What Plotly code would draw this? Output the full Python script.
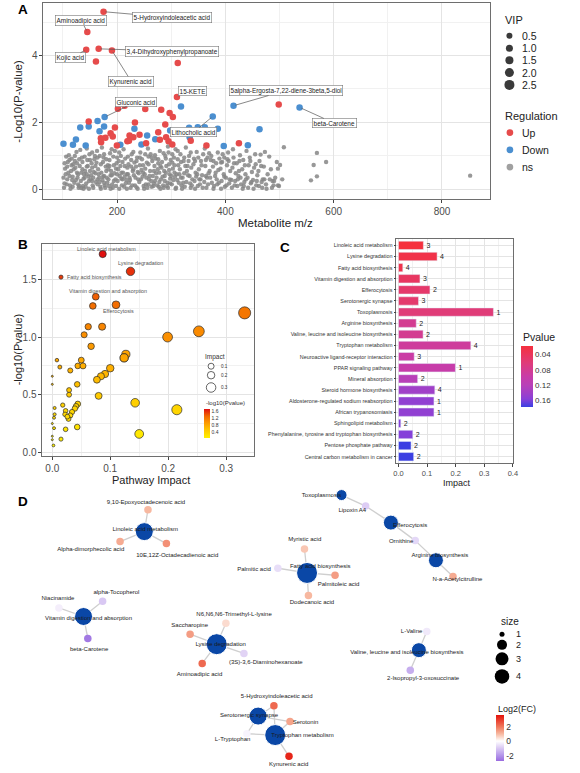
import math
import plotly.graph_objects as go

W, H = 580, 773
FONT = "Liberation Sans, Arial, Helvetica, sans-serif"

# ======================= DATA =======================
# ---- Panel A : metabolite m/z vs -log10(P)
up_points = [(175, 5.31), (145, 4.70), (143, 4.17), (166, 4.20), (190.5, 4.15), (161, 3.82), (312, 3.78),
             (310.5, 2.76), (498.5, 2.54), (201.5, 2.41), (214, 2.50), (252, 2.40), (281.5, 2.38), (297, 2.28),
             (303, 2.16), (147.6, 2.03), (196, 1.85), (233, 2.00), (289, 1.94), (188, 1.68), (192, 1.58),
             (170, 1.53), (178.5, 1.54), (170.5, 1.41), (223, 1.61), (230, 1.56), (241.5, 1.63), (276, 1.71),
             (279, 1.48), (290.5, 1.56), (295, 1.44), (302, 1.34), (219, 1.44), (222, 1.45), (253.6, 1.38),
             (199.6, 1.31), (336, 1.45), (365, 1.31), (425, 1.38)]
down_points = [(318, 2.48), (415, 2.50), (537, 2.45), (177, 2.16), (164, 2.04), (147.6, 1.88), (132, 1.85),
               (167.6, 1.74), (176, 1.88), (232, 1.81), (376.7, 2.18), (333, 1.84), (349, 1.86), (362, 1.86),
               (386, 1.81), (463, 1.80), (298, 1.76), (255.5, 1.61), (270.5, 1.50), (245, 1.34), (206, 1.33),
               (101, 1.36), (118.5, 1.33), (124, 1.49), (142, 1.31), (334, 1.56), (397, 1.30), (441.5, 1.32)]
ns_points = [
    (102, 0.05), (104, 0.62), (106, 0.98), (108, 0.3), (103, 0.18), (109, 0.82), (105, 0.45),
    (111, 1.02), (113, 0.12), (115, 0.55), (117, 0.28), (119, 0.75), (112, 0.4), (118, 0.08), (116, 0.92),
    (121, 0.2), (123, 0.65), (125, 1.12), (127, 0.35), (129, 0.05), (122, 0.85), (126, 0.5), (128, 0.15),
    (131, 0.7), (133, 0.25), (135, 0.95), (137, 0.1), (139, 0.45), (132, 1.18), (136, 0.6), (138, 0.32), (134, 0.04),
    (141, 0.55), (143, 0.18), (145, 0.88), (147, 0.38), (149, 1.05), (142, 0.08), (146, 0.7), (148, 0.25), (144, 1.22),
    (151, 0.3), (153, 0.78), (155, 0.12), (157, 0.52), (159, 1.0), (152, 0.42), (156, 0.05), (158, 0.9), (154, 0.65),
    (161, 0.22), (163, 1.15), (165, 0.6), (167, 0.35), (169, 0.08), (162, 0.8), (166, 0.45), (168, 1.0), (164, 0.15),
    (171, 0.5), (173, 0.28), (175, 0.95), (177, 0.12), (179, 0.68), (172, 1.25), (176, 0.4), (178, 0.05), (174, 0.82),
    (181, 0.35), (183, 0.72), (185, 0.1), (187, 1.08), (189, 0.55), (182, 0.2), (186, 0.88), (188, 0.42), (184, 0.6),
    (191, 0.15), (193, 0.98), (195, 0.48), (197, 0.3), (199, 0.78), (192, 0.05), (196, 1.15), (198, 0.62),
    (201, 0.25), (203, 0.85), (205, 0.4), (207, 1.0), (209, 0.12), (202, 0.6), (206, 0.7), (208, 0.32),
    (211, 0.5), (213, 0.08), (215, 0.92), (217, 0.28), (219, 0.65), (212, 1.2), (216, 0.18), (218, 0.45),
    (221, 0.75), (223, 0.35), (225, 0.05), (227, 1.05), (229, 0.55), (222, 0.2), (226, 0.88),
    (231, 0.42), (233, 0.12), (235, 0.68), (237, 0.95), (239, 0.3), (232, 0.8), (236, 0.06), (238, 0.52),
    (241, 0.22), (243, 1.1), (245, 0.58), (247, 0.38), (249, 0.1), (242, 0.72), (246, 0.9),
    (251, 0.45), (253, 0.15), (255, 0.8), (257, 1.22), (259, 0.3), (252, 0.62), (256, 0.05), (258, 0.98),
    (261, 0.55), (263, 0.25), (265, 0.85), (267, 0.1), (269, 0.7), (262, 1.05), (266, 0.4), (268, 0.18),
    (271, 0.92), (273, 0.35), (275, 0.6), (277, 0.08), (279, 1.15), (272, 0.48), (276, 0.78), (278, 0.22),
    (281, 0.3), (283, 0.82), (285, 0.12), (287, 0.55), (289, 1.0), (282, 0.65), (286, 0.05), (288, 0.4),
    (291, 0.7), (293, 0.2), (295, 1.1), (297, 0.45), (299, 0.88), (292, 0.1), (296, 0.58), (298, 0.32), (294, 1.28),
    (301, 0.15), (303, 0.62), (305, 0.95), (307, 0.38), (309, 0.05), (302, 0.8), (306, 0.5), (308, 1.2),
    (311, 0.28), (313, 0.72), (315, 0.45), (317, 1.05), (319, 0.12), (312, 0.9), (316, 0.6),
    (321, 0.35), (323, 0.85), (325, 0.08), (327, 1.25), (329, 0.55), (322, 0.2), (326, 0.7),
    (331, 0.42), (333, 1.0), (335, 0.18), (337, 0.65), (339, 0.3), (332, 0.85), (336, 0.05),
    (341, 0.75), (343, 0.25), (345, 0.5), (347, 1.12), (349, 0.1), (342, 0.92), (346, 0.38),
    (351, 0.6), (353, 0.15), (355, 0.85), (357, 0.42), (359, 1.05), (352, 0.3),
    (361, 0.22), (363, 0.7), (365, 0.05), (367, 0.95), (369, 0.48), (362, 1.22), (366, 0.35),
    (371, 0.55), (373, 0.88), (375, 0.2), (377, 0.68), (379, 0.1), (374, 1.0),
    (381, 0.4), (383, 0.78), (385, 0.15), (387, 0.58), (389, 0.92), (384, 0.3),
    (391, 0.62), (393, 0.25), (395, 1.05), (397, 0.45), (399, 0.08), (394, 0.82),
    (401, 0.35), (403, 0.72), (405, 1.1), (407, 0.18), (409, 0.55), (404, 0.9),
    (411, 0.28), (413, 0.65), (415, 0.95), (417, 0.12), (419, 0.48), (414, 1.2),
    (421, 0.78), (423, 0.3), (425, 0.55), (427, 1.02), (429, 0.15), (424, 0.4),
    (431, 0.6), (433, 0.88), (435, 0.22), (437, 0.45), (439, 1.15), (434, 0.1),
    (441, 0.35), (443, 0.72), (445, 0.95), (447, 0.18), (449, 0.52),
    (451, 0.28), (453, 0.65), (455, 1.05), (457, 0.12), (459, 0.42),
    (461, 0.55), (463, 0.85), (465, 1.04), (467, 0.22), (469, 0.3),
    (471, 0.68), (473, 1.12), (475, 0.15), (478, 0.45),
    (481, 0.98), (484, 0.6), (487, 0.25), (489, 0.12),
    (492, 0.35), (495, 0.82), (497, 0.62), (497, 0.12), (499, 0.1),
    (501, 0.73), (505, 0.3), (508, 1.26), (558, 0.27), (563, 0.73), (569, 1.09), (569, 0.39), (586, 0.82), (852, 0.41),
    (101, 0.35), (107, 0.15), (110, 0.5), (114, 0.02), (118, 0.38), (120, 0.6), (124, 0.28), (128, 0.45), (130, 0.1),
    (134, 0.5), (138, 0.02), (140, 0.35), (144, 0.45), (148, 0.02), (150, 0.55), (154, 0.25), (156, 0.35), (160, 0.48),
    (164, 0.3), (168, 0.22), (170, 0.02), (174, 0.38), (176, 0.2), (180, 0.55), (184, 0.3), (188, 0.02), (190, 0.42),
    (194, 0.25), (198, 0.1), (200, 0.45), (204, 0.02), (208, 0.5), (210, 0.3), (214, 0.38), (218, 0.02), (220, 0.45),
    (224, 0.28), (228, 0.12), (230, 0.6), (234, 0.35), (238, 0.02), (240, 0.48), (244, 0.3), (248, 0.5), (250, 0.02),
    (254, 0.35), (258, 0.15), (260, 0.4), (264, 0.08), (268, 0.55), (270, 0.25), (274, 0.12), (278, 0.5), (280, 0.02),
    (284, 0.38), (288, 0.25), (290, 0.5), (294, 0.05), (298, 0.18), (300, 0.4), (304, 0.28), (308, 0.02), (310, 0.45),
    (314, 0.2), (318, 0.35), (320, 0.02), (324, 0.48), (328, 0.22), (334, 0.4), (338, 0.12), (344, 0.02), (348, 0.45),
    (354, 0.3), (358, 0.05), (364, 0.4), (368, 0.15), (372, 0.35), (378, 0.02), (382, 0.5), (388, 0.2), (392, 0.02),
    (398, 0.38), (402, 0.12), (408, 0.3), (412, 0.05), (418, 0.25), (422, 0.1), (428, 0.35), (432, 0.02), (438, 0.3),
    (442, 0.05), (448, 0.22), (452, 0.02), (458, 0.25), (462, 0.1), (468, 0.05), (472, 0.3), (476, 0.02), (482, 0.3),
    (486, 0.05), (490, 0.25),
    (103, 0.78), (108, 0.68), (112, 0.88), (116, 0.72), (122, 1.0), (126, 0.78), (130, 0.9), (136, 0.82), (140, 0.98),
    (144, 0.68), (150, 0.88), (154, 1.1), (160, 0.7), (164, 0.95), (170, 0.75), (176, 1.05), (180, 0.9), (186, 0.7),
    (190, 1.2), (194, 0.72), (200, 0.95), (204, 1.1), (210, 0.82), (214, 0.7), (220, 0.98), (226, 0.68), (230, 1.12),
    (236, 0.85), (242, 0.95), (248, 0.72), (252, 1.05), (258, 0.75), (264, 0.95), (270, 1.02), (276, 0.9), (280, 0.7),
    (286, 1.08), (290, 0.92), (296, 0.75), (302, 1.05), (306, 0.72), (312, 1.15), (318, 0.82), (324, 0.95), (330, 0.7),
    (336, 1.1), (344, 0.85), (350, 0.95), (356, 0.72), (364, 0.88), (370, 1.08), (378, 0.85), (386, 1.1), (392, 0.8),
    (398, 0.95), (406, 0.85), (416, 0.78), (426, 0.85), (436, 0.72), (446, 0.85), (456, 0.75), (466, 0.7)]

a_label_names = ['Aminoadipic acid', '5-Hydroxyindoleacetic acid', 'Kojic acid', '3,4-Dihydroxyphenylpropanoate',
                 'Kynurenic acid', '15-KETE', 'Gluconic acid', 'Lithocholic acid',
                 '5alpha-Ergosta-7,22-diene-3beta,5-diol', 'beta-Carotene']
a_label_mz = [145, 175, 143, 166, 190.5, 310.5, 177, 376.7, 415, 537]
a_label_logp = [4.70, 5.31, 4.17, 4.20, 4.15, 2.76, 2.16, 2.18, 2.50, 2.45]

vip_levels = ['0.5', '1.0', '1.5', '2.0', '2.5']
regulation_levels = ['Up', 'Down', 'ns']

# ---- Panels B / C : pathway enrichment
pathway_names = ['Linoleic acid metabolism', 'Lysine degradation', 'Fatty acid biosynthesis',
                 'Vitamin digestion and absorption', 'Efferocytosis', 'Serotonergic synapse', 'Toxoplasmosis',
                 'Arginine biosynthesis', 'Valine, leucine and isoleucine biosynthesis', 'Tryptophan metabolism',
                 'Neuroactive ligand-receptor interaction', 'PPAR signaling pathway', 'Mineral absorption',
                 'Steroid hormone biosynthesis', 'Aldosterone-regulated sodium reabsorption',
                 'African trypanosomiasis', 'Sphingolipid metabolism',
                 'Phenylalanine, tyrosine and tryptophan biosynthesis', 'Pentose phosphate pathway',
                 'Central carbon metabolism in cancer']
pathway_impact = [0.087, 0.135, 0.015, 0.075, 0.110, 0.070, 0.332, 0.062, 0.086, 0.253,
                  0.055, 0.199, 0.067, 0.127, 0.124, 0.124, 0.008, 0.050, 0.044, 0.053]
pathway_neglogp = [1.72, 1.57, 1.52, 1.35, 1.28, 1.27, 1.21, 1.09, 1.09, 1.05,
                   1.02, 1.00, 0.92, 0.85, 0.82, 0.82, 0.80, 0.80, 0.75, 0.75]
pathway_hits = [3, 4, 4, 3, 2, 3, 1, 2, 2, 4, 3, 1, 2, 4, 1, 1, 2, 2, 2, 2]
b_labeled = ['Linoleic acid metabolism', 'Lysine degradation', 'Fatty acid biosynthesis',
             'Vitamin digestion and absorption', 'Efferocytosis']
other_pathways = [(0.100, 0.73), (0.091, 0.68), (0.084, 0.66), (0.077, 0.63), (0.080, 0.49), (0.143, 0.43),
                  (0.215, 0.37), (0.150, 0.16), (0.031, 0.71), (0.013, 0.74), (0.043, 0.59), (0.029, 0.54),
                  (0.029, 0.50), (0.044, 0.42), (0.041, 0.40), (0.039, 0.38), (0.034, 0.35), (0.031, 0.32),
                  (0.028, 0.29), (0.018, 0.41), (0.023, 0.36), (0.022, 0.33), (0.026, 0.31), (0.043, 0.22),
                  (0.023, 0.20), (0.015, 0.115), (0.0, 0.66), (0.0, 0.59), (0.004, 0.385), (0.004, 0.33),
                  (0.003, 0.30), (0.0, 0.25), (0.003, 0.21), (0.0, 0.14), (0.0, 0.11), (0.002, 0.06)]
impact_legend_levels = [0.1, 0.2, 0.3]

# ---- Panel D : pathway-metabolite network
hub_names = ['Linoleic acid metabolism', 'Vitamin digestion and absorption', 'Lysine degradation',
             'Serotonergic synapse', 'Tryptophan metabolism', 'Toxoplasmosis', 'Efferocytosis',
             'Arginine biosynthesis', 'Fatty acid biosynthesis', 'Valine, leucine and isoleucine biosynthesis']
hub_x = [143.3, 81.7, 216.7, 258.7, 276.0, 343.3, 393.3, 439.0, 308.3, 421.7]
hub_y = [532.3, 617.3, 645.0, 717.0, 736.0, 495.7, 523.3, 561.0, 573.7, 651.0]
hub_size = [3, 3, 4, 3, 4, 1, 2, 2, 4, 2]
met_names = ['9,10-Epoxyoctadecenoic acid', 'Alpha-dimorphecolic acid', '10E,12Z-Octadecadienoic acid',
             'Niacinamide', 'alpha-Tocopherol', 'beta-Carotene', 'N6,N6,N6-Trimethyl-L-lysine', 'Saccharopine',
             '(3S)-3,6-Diaminohexanoate', 'Aminoadipic acid', '5-Hydroxyindoleacetic acid', 'Serotonin',
             'L-Tryptophan', 'Kynurenic acid', 'Palmitic acid', 'Myristic acid', 'Palmitoleic acid',
             'Dodecanoic acid', 'Lipoxin A4', 'Ornithine', 'N-a-Acetylcitrulline', 'L-Valine',
             '2-Isopropyl-3-oxosuccinate']
met_x = [147.0, 118.7, 165.7, 56.7, 101.0, 86.0, 226.0, 189.7, 244.3, 202.0, 274.7, 291.0, 247.3, 290.0,
         278.7, 305.7, 336.7, 309.7, 367.7, 418.0, 456.3, 429.7, 413.0]
met_y = [510.3, 542.3, 544.3, 608.7, 602.0, 639.3, 624.0, 635.0, 654.3, 664.3, 706.7, 722.5, 734.7, 757.3,
         569.0, 549.7, 576.0, 596.3, 506.7, 541.3, 577.3, 632.3, 671.0]
met_log2fc = [1.0, 1.2, 1.6, -0.3, -1.0, -2.5, 0.5, 1.4, -0.8, 2.2, 2.2, 1.3, -0.2, 3.3,
              -0.6, 0.8, 1.4, 1.0, -0.9, -0.7, 1.2, -0.4, -1.5]
edges = [('Linoleic acid metabolism', '9,10-Epoxyoctadecenoic acid'),
         ('Linoleic acid metabolism', 'Alpha-dimorphecolic acid'),
         ('Linoleic acid metabolism', '10E,12Z-Octadecadienoic acid'),
         ('Vitamin digestion and absorption', 'Niacinamide'),
         ('Vitamin digestion and absorption', 'alpha-Tocopherol'),
         ('Vitamin digestion and absorption', 'beta-Carotene'),
         ('Lysine degradation', 'N6,N6,N6-Trimethyl-L-lysine'),
         ('Lysine degradation', 'Saccharopine'),
         ('Lysine degradation', '(3S)-3,6-Diaminohexanoate'),
         ('Lysine degradation', 'Aminoadipic acid'),
         ('Serotonergic synapse', '5-Hydroxyindoleacetic acid'),
         ('Serotonergic synapse', 'Serotonin'),
         ('Serotonergic synapse', 'L-Tryptophan'),
         ('Tryptophan metabolism', '5-Hydroxyindoleacetic acid'),
         ('Tryptophan metabolism', 'Serotonin'),
         ('Tryptophan metabolism', 'L-Tryptophan'),
         ('Tryptophan metabolism', 'Kynurenic acid'),
         ('Toxoplasmosis', 'Lipoxin A4'),
         ('Efferocytosis', 'Lipoxin A4'),
         ('Efferocytosis', 'Ornithine'),
         ('Arginine biosynthesis', 'Ornithine'),
         ('Arginine biosynthesis', 'N-a-Acetylcitrulline'),
         ('Fatty acid biosynthesis', 'Palmitic acid'),
         ('Fatty acid biosynthesis', 'Myristic acid'),
         ('Fatty acid biosynthesis', 'Palmitoleic acid'),
         ('Fatty acid biosynthesis', 'Dodecanoic acid'),
         ('Valine, leucine and isoleucine biosynthesis', 'L-Valine'),
         ('Valine, leucine and isoleucine biosynthesis', '2-Isopropyl-3-oxosuccinate')]
size_legend_levels = [1, 2, 3, 4]

# ======================= LAYOUT / STYLE =======================
def fx(p):
    return p / W


def fy(p):
    return 1 - p / H


C_UP, C_DOWN, C_NS, C_NS_LEG = '#E64B4B', '#4B8FD0', '#868686', '#A0A0A0'
HUB_COLOR = '#0A47A6'
EDGE_COLOR = '#CFCFCF'

a_label_box = {'Aminoadipic acid': (134.2, 5.04), '5-Hydroxyindoleacetic acid': (302.2, 5.13),
               'Kojic acid': (113.1, 3.93), '3,4-Dihydroxyphenylpropanoate': (302.2, 4.13),
               'Kynurenic acid': (226.4, 3.22), '15-KETE': (338.5, 2.93), 'Gluconic acid': (235.5, 2.62),
               'Lithocholic acid': (341.5, 1.71), '5alpha-Ergosta-7,22-diene-3beta,5-diol': (512.7, 2.96),
               'beta-Carotene': (600.9, 1.98)}
b_label_pos = {'Linoleic acid metabolism': (0.0937, 1.763, 'center'),
               'Lysine degradation': (0.1517, 1.642, 'center'),
               'Fatty acid biosynthesis': (0.0222, 1.521, 'left'),
               'Vitamin digestion and absorption': (0.0954, 1.40, 'center'),
               'Efferocytosis': (0.1142, 1.227, 'center')}
d_label_pos = {
    'Linoleic acid metabolism': (144.2, 530), 'Vitamin digestion and absorption': (86.7, 619),
    'Lysine degradation': (220.7, 645.7), 'Serotonergic synapse': (249.5, 716),
    'Tryptophan metabolism': (303.7, 736.7), 'Toxoplasmosis': (323, 496.3), 'Efferocytosis': (412.8, 525.7),
    'Arginine biosynthesis': (443, 556.7), 'Fatty acid biosynthesis': (321.7, 567.3),
    'Valine, leucine and isoleucine biosynthesis': (409.5, 653.3),
    '9,10-Epoxyoctadecenoic acid': (145, 503), 'Alpha-dimorphecolic acid': (89, 550.7),
    '10E,12Z-Octadecadienoic acid': (176.7, 556.3), 'Niacinamide': (55.7, 599), 'alpha-Tocopherol': (115, 593),
    'beta-Carotene': (87.3, 650.7), 'N6,N6,N6-Trimethyl-L-lysine': (234.3, 615.7), 'Saccharopine': (189.3, 626.7),
    '(3S)-3,6-Diaminohexanoate': (266.5, 663.3), 'Aminoadipic acid': (199.3, 675),
    '5-Hydroxyindoleacetic acid': (277.5, 697), 'Serotonin': (306.7, 723.7), 'L-Tryptophan': (232.8, 740),
    'Kynurenic acid': (289.7, 766), 'Palmitic acid': (254.5, 570), 'Myristic acid': (306, 540.7),
    'Palmitoleic acid': (340.3, 585.3), 'Dodecanoic acid': (313.3, 603.3), 'Lipoxin A4': (354.2, 510.7),
    'Ornithine': (403.7, 542), 'N-a-Acetylcitrulline': (460.8, 580.3), 'L-Valine': (414.3, 632.7),
    '2-Isopropyl-3-oxosuccinate': (426, 679.3)}
HUB_DIAM = {1: 11, 2: 15, 3: 18, 4: 21}

fig = go.Figure()

# ---------------- Panel A ----------------
fig.add_trace(go.Scatter(x=[p[0] for p in ns_points], y=[p[1] for p in ns_points], mode='markers',
                         marker=dict(size=4.4, color=C_NS, opacity=0.85),
                         xaxis='x', yaxis='y', hoverinfo='skip'))
fig.add_trace(go.Scatter(x=[p[0] for p in down_points], y=[p[1] for p in down_points], mode='markers',
                         marker=dict(size=6.5, color=C_DOWN, opacity=1), xaxis='x', yaxis='y'))
fig.add_trace(go.Scatter(x=[p[0] for p in up_points], y=[p[1] for p in up_points], mode='markers',
                         marker=dict(size=6.5, color=C_UP, opacity=1), xaxis='x', yaxis='y'))

# ---------------- Panel B ----------------
b_imp = pathway_impact + [p[0] for p in other_pathways]
b_nlp = pathway_neglogp + [p[1] for p in other_pathways]
b_size = [2 + 17.5 * math.sqrt(v) for v in b_imp]
fig.add_trace(go.Scatter(x=b_imp, y=b_nlp, mode='markers',
                         marker=dict(size=b_size, color=b_nlp, coloraxis='coloraxis', opacity=1,
                                     line=dict(color='#2b2b2b', width=0.7)),
                         xaxis='x2', yaxis='y2'))

# ---------------- Panel C ----------------
pvals = [10 ** (-v) for v in pathway_neglogp]
fig.add_trace(go.Bar(x=pathway_impact, y=pathway_names, orientation='h',
                     marker=dict(color=[-p for p in pvals], coloraxis='coloraxis2'),
                     text=[str(h) for h in pathway_hits], textposition='outside',
                     textfont=dict(size=7, color='#222'), cliponaxis=False,
                     xaxis='x3', yaxis='y3'))

# ---------------- Panel D ----------------
pos = {n: (x, y) for n, x, y in zip(hub_names, hub_x, hub_y)}
pos.update({n: (x, y) for n, x, y in zip(met_names, met_x, met_y)})
ex, ey = [], []
for a, b in edges:
    ex += [pos[a][0], pos[b][0], None]
    ey += [pos[a][1], pos[b][1], None]
fig.add_trace(go.Scatter(x=ex, y=ey, mode='lines', line=dict(color=EDGE_COLOR, width=1.3),
                         xaxis='x4', yaxis='y4', hoverinfo='skip'))
fig.add_trace(go.Scatter(x=met_x, y=met_y, mode='markers',
                         marker=dict(size=7.5, color=met_log2fc, coloraxis='coloraxis3', opacity=1),
                         xaxis='x4', yaxis='y4'))
fig.add_trace(go.Scatter(x=hub_x, y=hub_y, mode='markers',
                         marker=dict(size=[HUB_DIAM[s] for s in hub_size], color=HUB_COLOR, opacity=1),
                         xaxis='x4', yaxis='y4'))
all_nodes = hub_names + met_names
fig.add_trace(go.Scatter(x=[d_label_pos[n][0] for n in all_nodes], y=[d_label_pos[n][1] for n in all_nodes],
                         mode='text', text=all_nodes, textposition='middle center',
                         textfont=dict(size=6, color='#1a1a1a', family=FONT),
                         xaxis='x4', yaxis='y4', hoverinfo='skip'))

# ---------------- Axes ----------------
def axis(**kw):
    base = dict(showgrid=True, gridcolor='#E4E4E4', gridwidth=0.8, zeroline=False, showline=True,
                linecolor='#6E6E6E', linewidth=0.9, mirror=True, ticks='outside', ticklen=3,
                tickcolor='#444', tickwidth=0.8, tickfont=dict(size=10, color='#4D4D4D', family=FONT))
    base.update(kw)
    return base


fig.update_layout(
    width=W, height=H, margin=dict(l=0, r=0, t=0, b=0), paper_bgcolor='white',
    plot_bgcolor='rgba(0,0,0,0)',
    showlegend=False, font=dict(family=FONT, color='#222'),
    xaxis=axis(domain=[fx(41), fx(494)], range=[64, 889], anchor='y', tick0=0, dtick=200,
               minor=dict(showgrid=True, dtick=100, gridcolor='#F1F1F1')),
    yaxis=axis(domain=[fy(199), fy(3)], range=[-0.28, 5.57], anchor='x', tick0=0, dtick=2,
               minor=dict(showgrid=True, dtick=1, gridcolor='#F1F1F1')),
    xaxis2=axis(domain=[fx(40), fx(255)], range=[-0.017, 0.349], anchor='y2', tick0=0, dtick=0.1,
                tickformat='.1f', minor=dict(showgrid=True, dtick=0.05, gridcolor='#F1F1F1')),
    yaxis2=axis(domain=[fy(457), fy(244)], range=[-0.035, 1.81], anchor='x2', tick0=0, dtick=0.5,
                tickformat='.1f', minor=dict(showgrid=True, dtick=0.25, gridcolor='#F1F1F1')),
    xaxis3=axis(domain=[fx(399), fx(517)], range=[-0.007, 0.40], anchor='y3', tick0=0, dtick=0.1,
                tickformat='.1f', tickfont=dict(size=7.5, color='#4D4D4D', family=FONT),
                minor=dict(showgrid=True, dtick=0.05, gridcolor='#F1F1F1')),
    yaxis3=axis(domain=[fy(464), fy(239)], range=[19.6, -0.6], anchor='x3', type='category',
                categoryorder='array', categoryarray=pathway_names, ticklen=2,
                tickfont=dict(size=5.4, color='#333', family=FONT)),
    xaxis4=dict(domain=[0, 1], range=[0, W], anchor='y4', visible=False),
    yaxis4=dict(domain=[0, fy(485)], range=[H, 485], anchor='x4', visible=False),
    bargap=0.25,
    coloraxis=dict(cmin=0.05, cmax=1.72,
                   colorscale=[[0, '#FFF200'], [0.3, '#FFC400'], [0.55, '#FC9400'], [0.75, '#F26A00'],
                               [1, '#E01010']],
                   colorbar=dict(x=fx(204), xanchor='left', y=fy(424.5), yanchor='middle', len=29,
                                 lenmode='pixels', thickness=6, thicknessmode='pixels', outlinewidth=0,
                                 xpad=0, ypad=0, tickvals=[0.4, 0.8, 1.2, 1.6], ticks='',
                                 tickfont=dict(size=5, color='#333'))),
    coloraxis2=dict(cmin=-0.178, cmax=-0.019,
                    colorscale=[[0, '#3A3FE2'], [0.13, '#8840D8'], [0.23, '#A040C8'], [0.36, '#B840B8'],
                                [0.5, '#C83CA8'], [0.73, '#E03C78'], [1, '#F5303E']],
                    colorbar=dict(x=fx(525), xanchor='left', y=fy(377.3), yanchor='middle', len=61,
                                  lenmode='pixels', thickness=12, thicknessmode='pixels', outlinewidth=0,
                                  xpad=0, ypad=0, tickvals=[-0.16, -0.12, -0.08, -0.04],
                                  ticktext=['0.16', '0.12', '0.08', '0.04'], ticks='',
                                  tickfont=dict(size=8, color='#333'))),
    coloraxis3=dict(cmin=-2.75, cmax=3.6,
                    colorscale=[[0, '#9A6BE0'], [0.118, '#B394EA'], [0.276, '#D9C8F3'], [0.433, '#FFFFFF'],
                                [0.59, '#F7B8A0'], [0.748, '#F0765A'], [1, '#E4120A']],
                    colorbar=dict(x=fx(500), xanchor='left', y=fy(739), yanchor='middle', len=46,
                                  lenmode='pixels', thickness=8, thicknessmode='pixels', outlinewidth=0,
                                  xpad=0, ypad=0, tickvals=[-2, 0, 2], ticktext=['-2', '0', '2'], ticks='',
                                  tickfont=dict(size=8.5, color='#333'))),
)

# ---------------- Legend symbols (shapes, pixel sized) ----------------
shapes = []


def dot(cx, cy, d, fill, line_color=None, lw=0):
    r = d / 2.0
    shapes.append(dict(type='circle', xref='paper', yref='paper', xsizemode='pixel', ysizemode='pixel',
                       xanchor=fx(cx), yanchor=fy(cy), x0=-r, x1=r, y0=-r, y1=r, fillcolor=fill,
                       line=dict(color=line_color or fill, width=lw)))


vip_sizes = [6, 7, 8, 9, 10]
vip_y = [35.7, 48.3, 60.3, 72.7, 85]
for d, yy in zip(vip_sizes, vip_y):
    dot(513.5, yy, d, '#3a3a3a')
reg_y = [132.7, 150, 167.3]
for c, yy in zip([C_UP, C_DOWN, C_NS_LEG], reg_y):
    dot(514, yy, 6.7, c)
imp_y = [366.7, 375.7, 388]
for d, yy in zip([6, 7.5, 9.5], imp_y):
    dot(211, yy, d, 'white', '#222', 0.7)
size_y = [635, 645.7, 659.7, 677.3]
for d, yy in zip([5, 10, 13, 14.5], size_y):
    dot(506, yy, d, 'black')

# ---------------- Annotations ----------------
ann = []


def txt(x, y, s, size, xanchor='center', color='#222', bold=False, angle=0):
    ann.append(dict(x=fx(x), y=fy(y), xref='paper', yref='paper', text=('<b>%s</b>' % s) if bold else s,
                    showarrow=False, xanchor=xanchor, yanchor='middle', textangle=angle,
                    font=dict(size=size, color=color, family=FONT)))


txt(13, 10, 'A', 13.5, 'left', '#000', True)
txt(13, 245, 'B', 13.5, 'left', '#000', True)
txt(278.5, 248, 'C', 13.5, 'left', '#000', True)
txt(13, 502, 'D', 13.5, 'left', '#000', True)
txt(276, 223, 'Metabolite m/z', 11.5)
txt(15, 101, '-Log10(P-value)', 11.5, angle=-90)
txt(150, 481, 'Pathway Impact', 11)
txt(15, 350, '-log10(Pvalue)', 11, angle=-90)
txt(460, 484, 'Impact', 9)
txt(507, 20, 'VIP', 11, 'left')
for lv, yy in zip(vip_levels, vip_y):
    txt(524, yy, lv, 10.5, 'left')
txt(507, 116.3, 'Regulation', 11, 'left')
for lv, yy in zip(regulation_levels, reg_y):
    txt(524, yy, lv, 10.5, 'left')
txt(203, 357, 'Impact', 6.5, 'left', '#333')
for lv, yy in zip(impact_legend_levels, imp_y):
    txt(219, yy, '%.1f' % lv, 4.6, 'left', '#333')
txt(204, 404, '-log10(Pvalue)', 6, 'left', '#333')
txt(525, 337, 'Pvalue', 10.5, 'left')
txt(502.5, 622.7, 'size', 10, 'left')
for lv, yy in zip(size_legend_levels, size_y):
    txt(518, yy, str(lv), 9, 'left')
txt(500, 710, 'Log2(FC)', 9, 'left')

for name, mx, lp in zip(a_label_names, a_label_mz, a_label_logp):
    bx, by = a_label_box[name]
    ann.append(dict(x=mx, y=lp, xref='x', yref='y', ax=bx, ay=by, axref='x', ayref='y', text=name,
                    showarrow=True, arrowhead=0, arrowwidth=0.7, arrowcolor='#555', standoff=2,
                    bgcolor='white', bordercolor='#777', borderwidth=0.6, borderpad=1,
                    font=dict(size=6.4, color='#222', family=FONT)))
for name in b_labeled:
    bx, by, anc = b_label_pos[name]
    ann.append(dict(x=bx, y=by, xref='x2', yref='y2', text=name, showarrow=False, xanchor=anc,
                    yanchor='middle', font=dict(size=5.4, color='#555', family=FONT)))

fig.update_layout(annotations=ann, shapes=shapes)
fig.write_html('out.html')
